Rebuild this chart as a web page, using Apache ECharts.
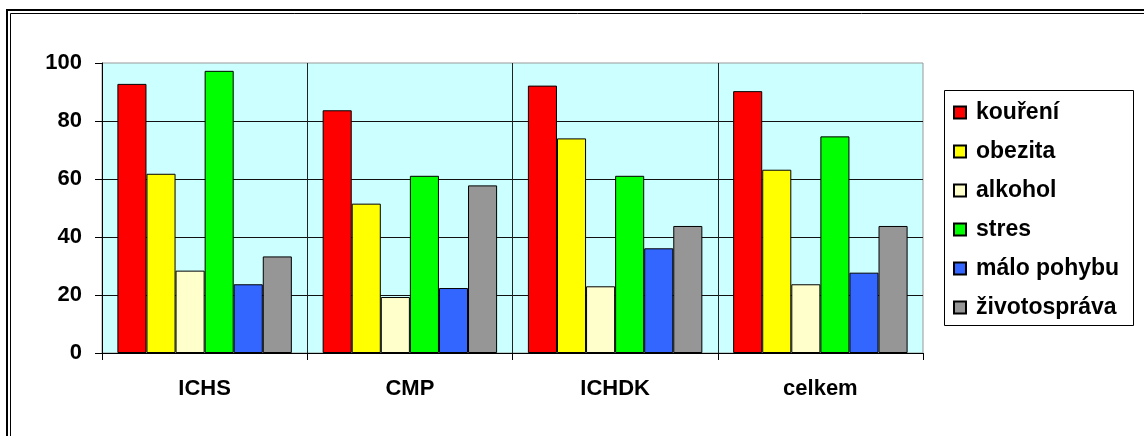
<!DOCTYPE html>
<html>
<head>
<meta charset="utf-8">
<script src="https://cdn.jsdelivr.net/npm/echarts@6/dist/echarts.min.js"></script>
<style>html,body{margin:0;padding:0;background:#fff}#c{width:1144px;height:436px}</style>
</head>
<body>
<div id="c"></div>
<script>
var categories = ['ICHS', 'CMP', 'ICHDK', 'celkem'];
var seriesNames = ['kouření', 'obezita', 'alkohol', 'stres', 'málo pohybu', 'životospráva'];
var koureni = [92.8, 83.7, 92.2, 90.3];
var obezita = [61.8, 51.5, 74.0, 63.2];
var alkohol = [28.4, 19.3, 23.0, 23.7];
var stres = [97.3, 61.1, 61.1, 74.7];
var maloPohybu = [23.7, 22.4, 36.1, 27.7];
var zivotosprava = [33.3, 57.8, 43.8, 43.8];
var yTicks = [0, 20, 40, 60, 80, 100];

var values = [koureni, obezita, alkohol, stres, maloPohybu, zivotosprava];
var colors = ['#FF0000', '#FFFF00', '#FFFFCC', '#00FF00', '#3366FF', '#969696'];
var font = 'Liberation Sans, Arial, sans-serif';

var chart = echarts.init(document.getElementById('c'));
chart.setOption({
  animation: false,
  backgroundColor: '#ffffff',
  grid: { left: 102, right: 221, top: 63, bottom: 83, show: true, backgroundColor: '#CCFFFF', borderColor: '#999999', borderWidth: 1 },
  xAxis: {
    type: 'category',
    data: categories,
    axisLine: { lineStyle: { color: '#000', width: 1 } },
    axisTick: { show: true, length: 7, lineStyle: { color: '#000' } },
    axisLabel: { color: '#000', fontFamily: font, fontWeight: 'bold', fontSize: 22, margin: 25 },
    splitLine: { show: true, showMinLine: false, showMaxLine: false, lineStyle: { color: '#222', width: 1 } }
  },
  yAxis: {
    type: 'value',
    min: yTicks[0], max: yTicks[yTicks.length - 1], interval: 20,
    axisLine: { show: true, lineStyle: { color: '#000', width: 1 } },
    axisTick: { show: true, length: 7, lineStyle: { color: '#000' } },
    axisLabel: { color: '#000', fontFamily: font, fontWeight: 'bold', fontSize: 22, margin: 20 },
    splitLine: { show: true, showMaxLine: false, lineStyle: { color: '#111', width: 1 } }
  },
  legend: {
    orient: 'vertical',
    left: 953, top: 101,
    itemWidth: 12, itemHeight: 12, itemGap: 16,
    icon: 'rect',
    padding: 0,
    textStyle: { color: '#000', fontFamily: font, fontWeight: 'bold', fontSize: 23, padding: [0, 0, 0, 5] },
    data: seriesNames
  },
  graphic: [
    { type: 'rect', silent: true, z: -1, shape: { x: 944.5, y: 90.5, width: 189, height: 235 }, style: { fill: '#fff', stroke: '#000', lineWidth: 1 } },
    { type: 'rect', silent: true, shape: { x: 7, y: 10, width: 1300, height: 1000 }, style: { fill: null, stroke: '#000', lineWidth: 2 } },
    { type: 'rect', silent: true, shape: { x: 10.5, y: 13.5, width: 1300, height: 1000 }, style: { fill: null, stroke: '#000', lineWidth: 1 } }
  ],
  series: seriesNames.map(function (n, i) {
    return {
      name: n, type: 'bar', data: values[i],
      barGap: '0%', barCategoryGap: '15%',
      itemStyle: { color: colors[i], borderColor: '#000', borderWidth: 1 }
    };
  })
});
</script>
</body>
</html>
